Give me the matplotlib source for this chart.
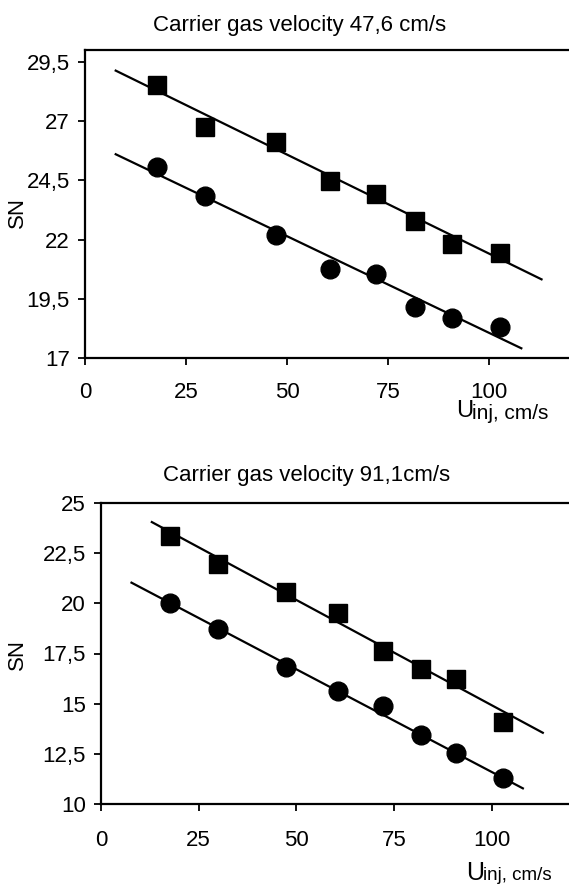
# Import Library
import matplotlib.pyplot as plt

plt.rcParams['font.family'] = ['Liberation Sans', 'DejaVu Sans']

# Injection velocity (cm/s), same for every series
u_inj = [17.7, 29.8, 47.3, 60.7, 72.0, 81.8, 90.9, 102.7]

# Carrier gas velocity 47,6 cm/s
top_squares = [28.53, 26.77, 26.13, 24.49, 23.93, 22.79, 21.81, 21.42]
top_circles = [25.08, 23.84, 22.18, 20.74, 20.53, 19.17, 18.68, 18.30]
top_sq_line_x = [7.6, 113.0]
top_sq_line_y = [29.13, 20.32]
top_ci_line_x = [7.6, 108.0]
top_ci_line_y = [25.60, 17.41]
top_yticks = [17, 19.5, 22, 24.5, 27, 29.5]

# Carrier gas velocity 91,1 cm/s
bot_squares = [23.35, 21.96, 20.56, 19.50, 17.64, 16.71, 16.23, 14.10]
bot_circles = [20.00, 18.72, 16.81, 15.65, 14.90, 13.44, 12.56, 11.28]
bot_sq_line_x = [13.0, 113.0]
bot_sq_line_y = [24.05, 13.55]
bot_ci_line_x = [7.8, 107.9]
bot_ci_line_y = [21.03, 10.78]
bot_yticks = [10, 12.5, 15, 17.5, 20, 22.5, 25]

xticks = [0, 25, 50, 75, 100]


def fmt(v):
    return ('%g' % v).replace('.', ',')


W, H = 569, 886
fig = plt.figure(figsize=(W / 100, H / 100), dpi=100)

ax1 = fig.add_axes([85 / W, 1 - 358 / H, (W - 85) / W, 308 / H])
ax2 = fig.add_axes([101 / W, 1 - 804 / H, (W - 101) / W, 301 / H])

panels = [
    (ax1, top_squares, top_circles, top_sq_line_x, top_sq_line_y,
     top_ci_line_x, top_ci_line_y, top_yticks, (17, 30), 119.8, 12),
    (ax2, bot_squares, bot_circles, bot_sq_line_x, bot_sq_line_y,
     bot_ci_line_x, bot_ci_line_y, bot_yticks, (10, 25), 119.7, 14),
]

for ax, sq, ci, sqx, sqy, cix, ciy, yt, ylim, xmax, xpad in panels:
    ax.plot(sqx, sqy, color='black', lw=1.6)
    ax.plot(cix, ciy, color='black', lw=1.6)
    ax.plot(u_inj, sq, ls='none', marker='s', ms=12.5, color='black')
    ax.plot(u_inj, ci, ls='none', marker='o', ms=13.5, color='black')
    ax.set_xlim(0, xmax)
    ax.set_ylim(*ylim)
    ax.set_xticks(xticks)
    ax.set_xticklabels([str(v) for v in xticks])
    ax.set_yticks(yt)
    ax.set_yticklabels([fmt(v) for v in yt])
    ax.spines['right'].set_visible(False)
    for s in ['left', 'bottom', 'top']:
        ax.spines[s].set_linewidth(1.6)
    ax.tick_params(axis='both', direction='out', length=5, width=1.3,
                   labelsize=16, colors='black')
    ax.tick_params(axis='y', pad=6)
    ax.tick_params(axis='x', pad=xpad)

# Titles
fig.text(300 / W, 1 - 25 / H, 'Carrier gas velocity 47,6 cm/s',
         ha='center', va='center', fontsize=16)
fig.text(307 / W, 1 - 476 / H, 'Carrier gas velocity 91,1cm/s',
         ha='center', va='center', fontsize=16)

# Y labels
fig.text(17 / W, 1 - 213 / H, 'SN', rotation=90, ha='center', va='center', fontsize=16)
fig.text(17 / W, 1 - 655 / H, 'SN', rotation=90, ha='center', va='center', fontsize=16)

# X labels (big U, smaller subscript part)
fig.text(456 / W, 1 - 411 / H, 'U', ha='left', va='center', fontsize=17)
fig.text(472 / W, 1 - 413 / H, 'inj, cm/s', ha='left', va='center', fontsize=15)
fig.text(466 / W, 1 - 873 / H, 'U', ha='left', va='center', fontsize=18)
fig.text(483 / W, 1 - 876 / H, 'inj, cm/s', ha='left', va='center', fontsize=13.5)

fig.savefig('out.png', dpi=100)
